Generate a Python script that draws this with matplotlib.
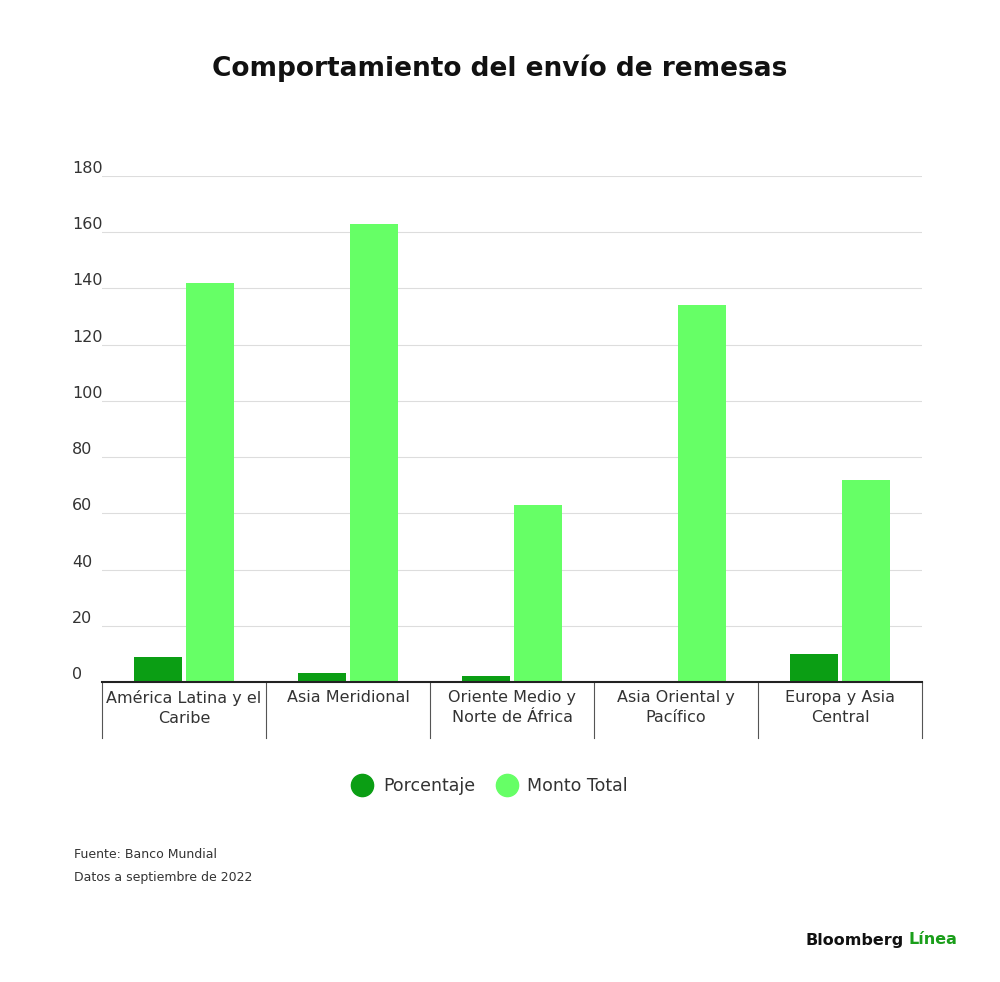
import matplotlib
matplotlib.use("Agg")
import matplotlib.pyplot as plt
from matplotlib.lines import Line2D
import numpy as np

categories = ["América Latina y el\nCaribe", "Asia Meridional", "Oriente Medio y\nNorte de África",
              "Asia Oriental y\nPacífico", "Europa y Asia\nCentral"]
porcentaje = [9.0, 3.2, 2.2, 0.0, 10.0]
monto_total = [142, 163, 63, 134, 72]
yticks = [0, 20, 40, 60, 80, 100, 120, 140, 160, 180]

dark = "#0b9e14"
light = "#66ff66"

fig = plt.figure(figsize=(10, 9.82), dpi=100)
ax = fig.add_axes([0.102, 1 - 682/982, 0.82, (682 - 176)/982])
x = np.arange(len(categories))
ax.bar(x - 0.16, porcentaje, width=0.29, color=dark)
ax.bar(x + 0.16, monto_total, width=0.29, color=light)
ax.set_xlim(-0.5, len(categories) - 0.5)
ax.set_ylim(0, 180)
ax.set_yticks(yticks)
ax.set_yticklabels([str(t) for t in yticks], fontsize=11.5, color="#333333", ha="left")
ax.tick_params(axis="y", length=0, pad=21.5)
ax.tick_params(axis="x", length=0, pad=6)
ax.set_xticks(x)
ax.set_xticklabels(categories, fontsize=11.5, color="#333333", linespacing=1.35)
for lab in ax.get_yticklabels():
    lab.set_verticalalignment("bottom")
ax.grid(axis="y", color="#dddddd", linewidth=0.8)
ax.set_axisbelow(True)
for s in ["top", "right", "left"]:
    ax.spines[s].set_visible(False)
ax.spines["bottom"].set_color("#222222")
ax.spines["bottom"].set_linewidth(1.5)
for b in np.arange(len(categories) + 1) - 0.5:
    ax.plot([b, b], [0, -20], color="#555555", linewidth=0.8, clip_on=False)

fig.text(0.5, 1 - 68/982, "Comportamiento del envío de remesas", ha="center", va="center",
         fontsize=19, fontweight="bold", color="#111111")
handles = [Line2D([], [], marker="o", linestyle="none", markersize=16, color=dark),
           Line2D([], [], marker="o", linestyle="none", markersize=16, color=light)]
fig.legend(handles=handles, labels=["Porcentaje", "Monto Total"],
           loc="center", bbox_to_anchor=(0.49, 1 - 786/982), ncol=2, frameon=False,
           fontsize=12.5, handlelength=1.2, columnspacing=1.2, handletextpad=0.6,
           labelcolor="#333333")
fig.text(0.074, 1 - 854/982, "Fuente: Banco Mundial", fontsize=9, color="#333333", va="center")
fig.text(0.074, 1 - 878/982, "Datos a septiembre de 2022", fontsize=9, color="#333333", va="center")
fig.text(0.904, 1 - 940/982, "Bloomberg", fontsize=11.5, fontweight="bold", color="#111111",
         va="center", ha="right")
fig.text(0.909, 1 - 940/982, "Línea", fontsize=11.5, fontweight="bold", color="#1a9e1a", va="center")
fig.savefig("out.png", dpi=100, facecolor="white")
